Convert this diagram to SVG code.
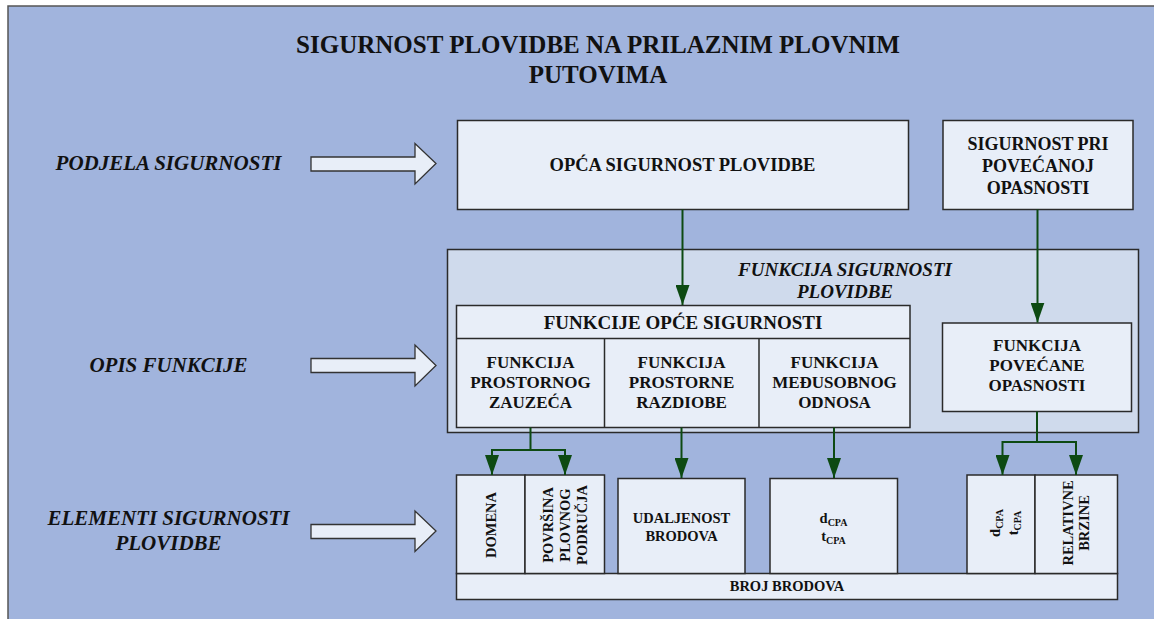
<svg xmlns="http://www.w3.org/2000/svg" width="1154" height="619" viewBox="0 0 1154 619">
<defs>
<style>
text{font-family:"Liberation Serif","Times New Roman",serif;font-weight:bold;fill:#111;text-anchor:middle}
.it{font-style:italic}
.box{fill:#E8EEF8;stroke:#2a2a2a;stroke-width:1.5}
.cont{fill:#CFDAEC;stroke:#2a2a2a;stroke-width:1.5}
.blk{fill:#E8EEF8;stroke:#333;stroke-width:1.3}
.con{fill:none;stroke:#0D4A12;stroke-width:2}
.t17{font-size:17px}
.t14{font-size:14.5px}
.sub{font-size:10px}
</style>
<marker id="ah" markerUnits="userSpaceOnUse" markerWidth="20" markerHeight="14" viewBox="0 0 20 14" refX="20" refY="7" orient="auto">
<path d="M0,0 L20,7 L0,14 z" fill="#0D4A12"/>
</marker>
</defs>
<rect x="0" y="0" width="1154" height="619" fill="#ffffff"/>
<rect x="8" y="6" width="1160" height="630" fill="#A1B4DD" stroke="#555" stroke-width="1.5"/>

<g id="title">
<text x="598" y="53" style="font-size:25px">SIGURNOST PLOVIDBE NA PRILAZNIM PLOVNIM</text>
<text x="598" y="83" style="font-size:25px">PUTOVIMA</text>
</g>

<g id="label-podjela">
<text class="it" x="168.5" y="170" style="font-size:21px">PODJELA SIGURNOSTI</text>
<path class="blk" d="M311,157 H415 V143.5 L436,163.5 L415,184 V171 H311 Z"/>
</g>
<g id="label-opis">
<text class="it" x="168.5" y="371.5" style="font-size:21px">OPIS FUNKCIJE</text>
<path class="blk" d="M311,358.5 H415 V345 L436,365.5 L415,386 V372.5 H311 Z"/>
</g>
<g id="label-elementi">
<text class="it" x="168.5" y="525" style="font-size:21px">ELEMENTI SIGURNOSTI</text>
<text class="it" x="168.5" y="549.5" style="font-size:21px">PLOVIDBE</text>
<path class="blk" d="M311,524.5 H415 V511 L436,531 L415,551.5 V538.5 H311 Z"/>
</g>

<g id="opca-sigurnost">
<rect class="box" x="457.5" y="120.5" width="451" height="89"/>
<text x="682.5" y="171" style="font-size:18.5px">OPĆA SIGURNOST PLOVIDBE</text>
</g>

<g id="sigurnost-povecanoj">
<rect class="box" x="943" y="120.5" width="190" height="89"/>
<text x="1038" y="149.5" style="font-size:18px">SIGURNOST PRI</text>
<text x="1038" y="171.5" style="font-size:18px">POVEĆANOJ</text>
<text x="1038" y="193.5" style="font-size:18px">OPASNOSTI</text>
</g>

<g id="funkcija-sigurnosti">
<rect class="cont" x="447.5" y="249.5" width="691" height="183"/>
<text class="it" x="845" y="276" style="font-size:19px">FUNKCIJA SIGURNOSTI</text>
<text class="it" x="845" y="297.5" style="font-size:19px">PLOVIDBE</text>
</g>

<g id="funkcije-opce">
<rect class="box" x="456.5" y="305.5" width="453.5" height="122"/>
<line x1="456.5" y1="338.5" x2="910" y2="338.5" stroke="#2a2a2a" stroke-width="1.5"/>
<text x="683" y="328.5" style="font-size:19px">FUNKCIJE OPĆE SIGURNOSTI</text>
</g>

<g id="f-prostornog">
<line x1="604.5" y1="338.5" x2="604.5" y2="427.5" stroke="#2a2a2a" stroke-width="1.5"/>
<text class="t17" x="530.5" y="367.5">FUNKCIJA</text>
<text class="t17" x="530.5" y="387.5">PROSTORNOG</text>
<text class="t17" x="530.5" y="407.5">ZAUZEĆA</text>
</g>
<g id="f-razdiobe">
<text class="t17" x="681.5" y="367.5">FUNKCIJA</text>
<text class="t17" x="681.5" y="387.5">PROSTORNE</text>
<text class="t17" x="681.5" y="407.5">RAZDIOBE</text>
</g>
<g id="f-odnosa">
<line x1="759" y1="338.5" x2="759" y2="427.5" stroke="#2a2a2a" stroke-width="1.5"/>
<text class="t17" x="834.5" y="367.5">FUNKCIJA</text>
<text class="t17" x="834.5" y="387.5">MEĐUSOBNOG</text>
<text class="t17" x="834.5" y="407.5">ODNOSA</text>
</g>

<g id="f-povecane">
<rect class="box" x="942.5" y="323" width="189" height="88.5"/>
<text class="t17" x="1037" y="351">FUNKCIJA</text>
<text class="t17" x="1037" y="371">POVEĆANE</text>
<text class="t17" x="1037" y="391">OPASNOSTI</text>
</g>

<g id="broj-brodova">
<rect class="box" x="456.5" y="573.5" width="661" height="26"/>
<text class="t14" x="787" y="590.5">BROJ BRODOVA</text>
</g>

<g id="domena">
<rect class="box" x="456.5" y="475" width="68.5" height="98.5"/>
<text class="t14" transform="translate(496,525) rotate(-90)" x="0" y="0">DOMENA</text>
</g>

<g id="povrsina">
<rect class="box" x="525" y="475" width="79.5" height="98.5"/>
<text class="t14" transform="translate(553,525) rotate(-90)" x="0" y="0">POVRŠINA</text>
<text class="t14" transform="translate(569.8,525) rotate(-90)" x="0" y="0">PLOVNOG</text>
<text class="t14" transform="translate(586.5,525) rotate(-90)" x="0" y="0">PODRUČJA</text>
</g>

<g id="udaljenost">
<rect class="box" x="618" y="478.5" width="127" height="95"/>
<text class="t14" x="681.5" y="523">UDALJENOST</text>
<text class="t14" x="681.5" y="541">BRODOVA</text>
</g>

<g id="dcpa">
<rect class="box" x="770" y="478.5" width="127.5" height="95"/>
<text class="t14" x="833.5" y="523">d<tspan class="sub" dy="3">CPA</tspan></text>
<text class="t14" x="833.5" y="541">t<tspan class="sub" dy="3">CPA</tspan></text>
</g>

<g id="dcpa-rot">
<rect class="box" x="967" y="475" width="68" height="98.5"/>
<text class="t14" transform="translate(1000,523) rotate(-90)" x="0" y="0">d<tspan class="sub" dy="3">CPA</tspan></text>
<text class="t14" transform="translate(1018,523) rotate(-90)" x="0" y="0">t<tspan class="sub" dy="3">CPA</tspan></text>
</g>

<g id="relativne-brzine">
<rect class="box" x="1035" y="475" width="82.5" height="98.5"/>
<text class="t14" transform="translate(1072.5,523) rotate(-90)" x="0" y="0">RELATIVNE</text>
<text class="t14" transform="translate(1089,523) rotate(-90)" x="0" y="0">BRZINE</text>
</g>

<g id="connectors">
<path class="con" d="M682.5,209.5 V305" marker-end="url(#ah)"/>
<path class="con" d="M1037.5,209.5 V322.5" marker-end="url(#ah)"/>
<path class="con" d="M530.5,427.5 V450 H492 V475" marker-end="url(#ah)"/>
<path class="con" d="M530.5,450 H565 V475" marker-end="url(#ah)"/>
<path class="con" d="M681.5,427.5 V478" marker-end="url(#ah)"/>
<path class="con" d="M834,427.5 V478" marker-end="url(#ah)"/>
<path class="con" d="M1037,411.5 V442 H1002.5 V475" marker-end="url(#ah)"/>
<path class="con" d="M1037,442 H1076 V475" marker-end="url(#ah)"/>
</g>
</svg>
